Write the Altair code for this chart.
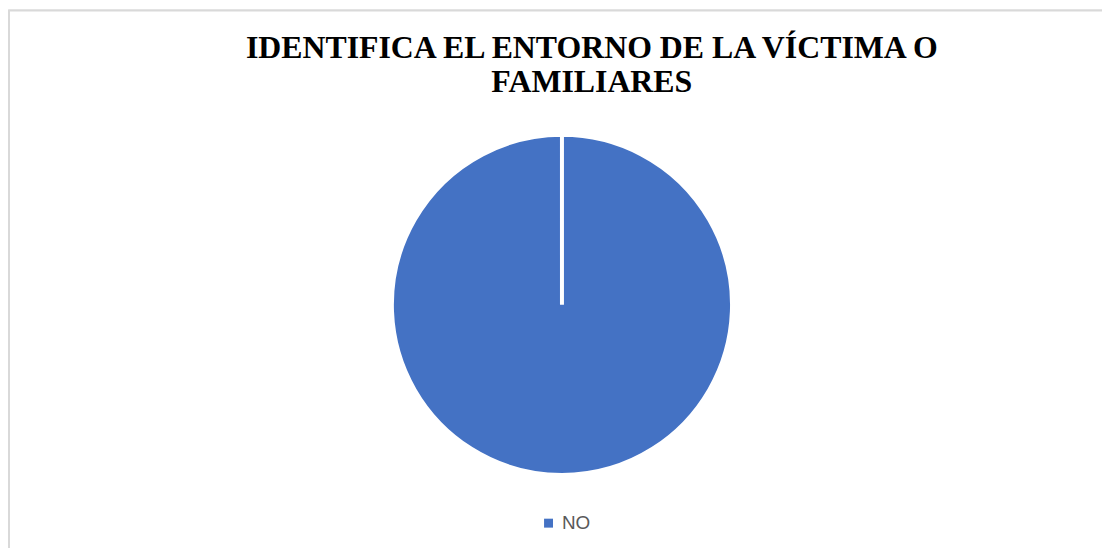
import altair as alt
import pandas as pd

categories = ["NO"]
values = [100]
title_lines = ["IDENTIFICA EL ENTORNO DE LA VÍCTIMA O", "FAMILIARES"]
colors = ["#4472C4"]

df = pd.DataFrame({"respuesta": categories, "valor": values})

border = (
    alt.Chart(pd.DataFrame({"b": [0]}))
    .mark_rect(fill="white", stroke="#d9d9d9", strokeWidth=2)
    .encode(
        x=alt.value(1),
        x2=alt.value(1140),
        y=alt.value(1),
        y2=alt.value(600),
    )
)

pie = (
    alt.Chart(df)
    .mark_arc(radius=171, stroke="white", strokeWidth=4)
    .encode(
        theta=alt.Theta("valor:Q", stack=True, scale=alt.Scale(domain=[0, 100.001])),
        color=alt.Color(
            "respuesta:N",
            scale=alt.Scale(domain=categories, range=colors),
            legend=alt.Legend(
                title=None,
                orient="none",
                legendX=534,
                legendY=507,
                symbolType="square",
                symbolSize=81,
                symbolStrokeWidth=0,
                labelFontSize=19,
                labelColor="#595959",
                labelFont="Liberation Sans",
            ),
        ),
        x=alt.value(557),
        y=alt.value(297),
    )
)

chart = (
    alt.layer(border, pie)
    .properties(
        width=1100,
        height=540,
        padding=0,
        autosize=alt.AutoSizeParams(type="none"),
        title=alt.TitleParams(
            text=title_lines,
            font="Liberation Serif",
            fontSize=32,
            fontWeight="bold",
            color="black",
            anchor="middle",
            baseline="top",
            lineHeight=34,
            dx=37,
            dy=94,
        ),
    )
    .configure_view(stroke=None)
    .configure(background="white")
)

chart.save("out.html", embed_options={"renderer": "svg", "actions": False})
